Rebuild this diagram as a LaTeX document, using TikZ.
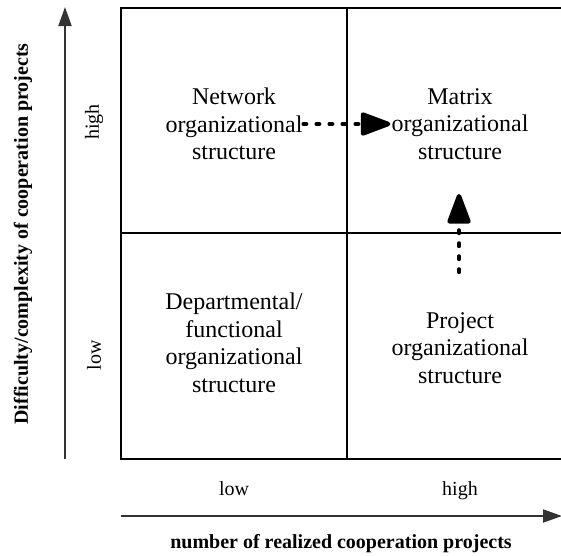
\documentclass[tikz,border=0pt]{standalone}
\usepackage{fontspec}
\setmainfont{Liberation Serif}
\usetikzlibrary{arrows.meta}
\begin{document}
\begin{tikzpicture}[x=1pt,y=-1pt,
  grid/.style={line width=2.8pt,black},
  axis/.style={line width=1.9pt,black!80,-{Triangle[length=19pt,width=13pt]}},
  quad/.style={align=center,font=\fontsize{24}{27.5}\selectfont,inner sep=1pt},
  lbl/.style={font=\fontsize{20}{23}\selectfont,inner sep=0pt},
  boldlbl/.style={font=\fontsize{20}{23}\selectfont\bfseries,inner sep=0pt},
  dasharrow/.style={line width=4.4pt,line cap=round,dash pattern=on 2.6pt off 10.4pt,
     -{Triangle[length=34pt,width=24pt,round=false]}}]
\useasboundingbox (0,0) rectangle (561,555);
% grid
\coordinate (tl) at (121,8);
\coordinate (tr) at (562,8);
\coordinate (bl) at (121,459);
\coordinate (br) at (562,459);
\coordinate (mt) at (347,8);
\coordinate (mb) at (347,459);
\coordinate (ml) at (121,233);
\coordinate (mr) at (562,233);
\draw[grid] (tr) -- (tl) -- (bl) -- (br);
\draw[grid] (mt) -- (mb);
\draw[grid] (ml) -- (mr);
% axes
\coordinate (ya) at (65,459);
\coordinate (yb) at (65,7);
\coordinate (xa) at (121,516);
\coordinate (xb) at (562,516);
\draw[axis] (ya) -- (yb);
\draw[axis] (xa) -- (xb);
% quadrant texts
\node[quad] (net) at (234,124) {Network\\organizational\\structure};
\node[quad] (mat) at (460,124) {Matrix\\organizational\\structure};
\node[quad] (dep) at (234,343) {Departmental/\\functional\\organizational\\structure};
\node[quad] (proj) at (460,348) {Project\\organizational\\structure};
% dashed arrows
\draw[dasharrow] (net.east) -- (mat.west);
\coordinate (va) at (459,272);
\coordinate (vb) at (459,194);
\draw[dasharrow] (va) -- (vb);
% axis labels
\node[lbl,rotate=90] (yhigh) at (94,122) {high};
\node[lbl,rotate=90] (ylow) at (94,355) {low};
\node[boldlbl,rotate=90] (ytitle) at (23,234) {Difficulty/complexity of cooperation projects};
\node[lbl,anchor=base] (xlow) at (234,495) {low};
\node[lbl,anchor=base] (xhigh) at (460,495) {high};
\node[boldlbl] (xtitle) at (341,544) {number of realized cooperation projects};
\end{tikzpicture}
\end{document}
